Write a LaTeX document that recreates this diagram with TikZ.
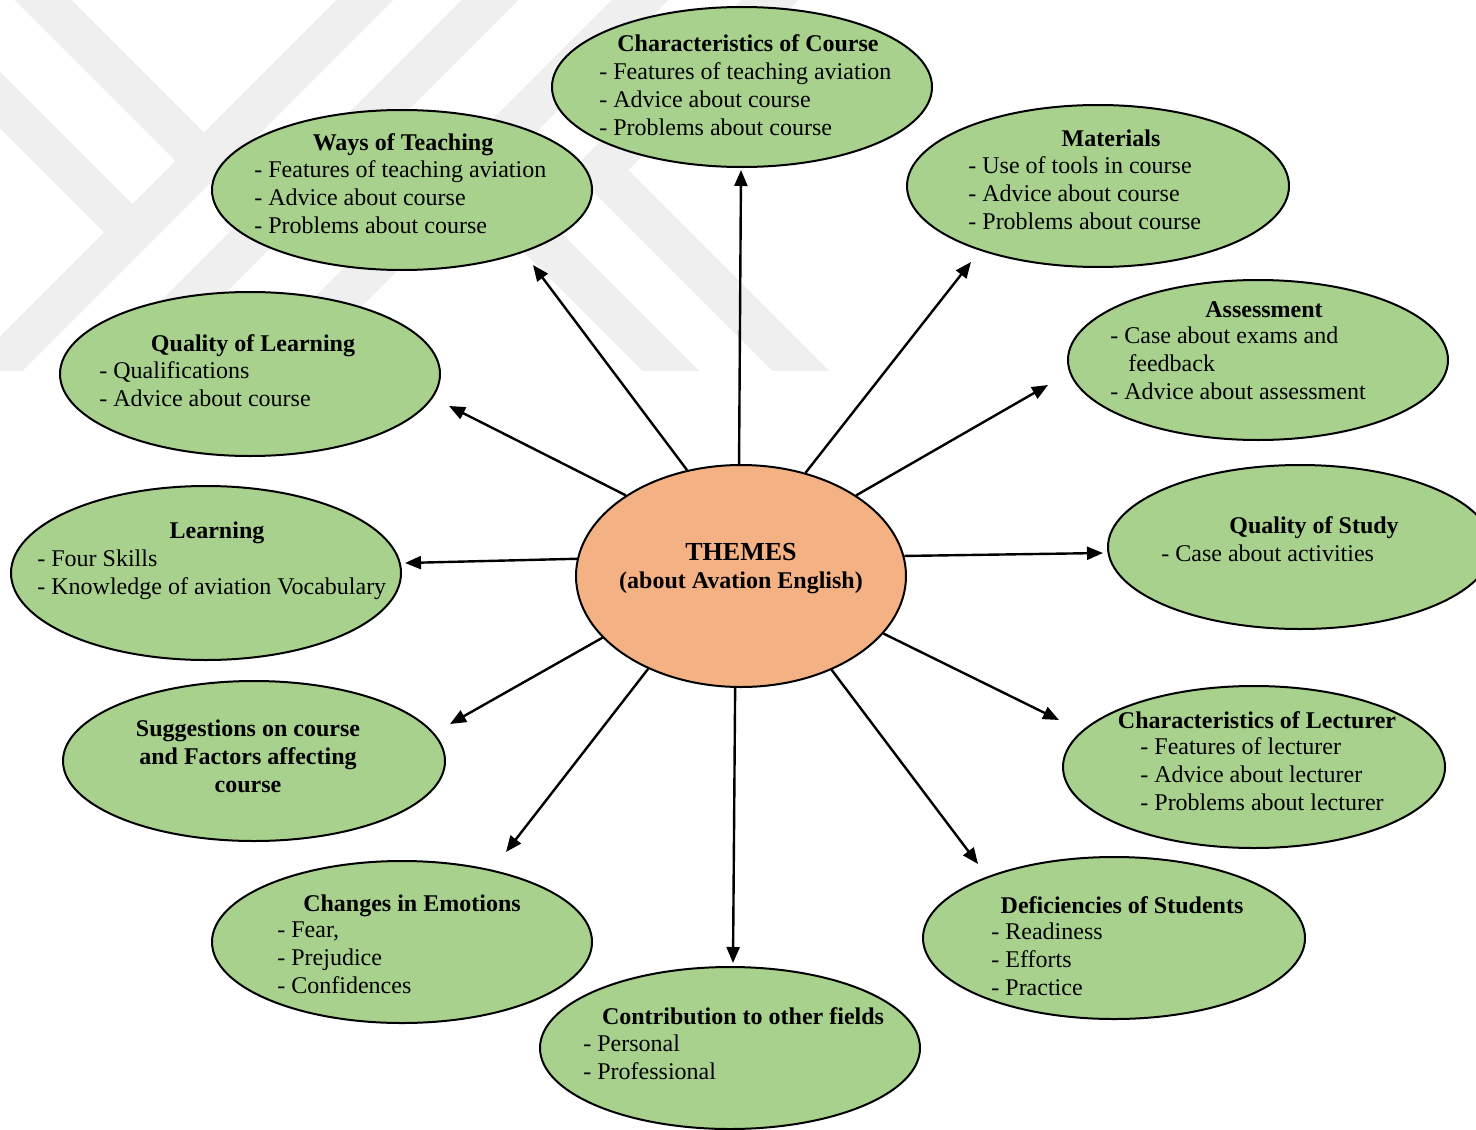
\documentclass[tikz,border=0pt]{standalone}
\usepackage{fontspec}
\setmainfont{Liberation Serif}
\usetikzlibrary{shapes.geometric,arrows.meta}
\definecolor{leaf}{RGB}{169,209,142}
\definecolor{peach}{RGB}{244,177,131}
\definecolor{mark}{RGB}{239,239,239}
\newcommand\bodysize{\fontsize{12pt}{13.85pt}\selectfont}

\begin{document}
\begin{tikzpicture}[x=0.5pt,y=-0.5pt,
  bubble/.style={ellipse,draw=black,line width=1pt,fill=leaf,inner sep=0pt},
  hub/.style={ellipse,draw=black,line width=1pt,fill=peach,inner sep=0pt},
  title/.style={font=\bodysize\bfseries,anchor=base,inner sep=0pt},
  items/.style={font=\bodysize,anchor=base west,align=left,inner sep=0pt},
  arr/.style={-{Triangle[length=8pt,width=6.5pt]},line width=1.2pt},
  band/.style={line width=20pt,draw=mark,line join=miter},
]
\useasboundingbox (0,0) rectangle (1476,1129);
\fill[white] (0,0) rectangle (1476,1129);

% faint chevron emblem in the upper left
\begin{scope}
  \clip (0,0) rectangle (860,370);
  \draw[band] (415,-50) -- (-50,415);
  \draw[band] (540,-50) -- (100,390);
  \draw[band] (-7,-50) -- (204,161);
  \draw[band] (-50,50) -- (132,232);
  \draw[band] (690,-50) -- (220,420);
  \draw[band] (470,170) -- (690,390);
  \draw[band] (820,-50) -- (600,170) -- (820,390);
\end{scope}

% central theme
\node[hub,minimum width=165pt,minimum height=111pt] (hub) at (741,576) {};
\node[title,font=\fontsize{13pt}{15pt}\selectfont\bfseries] (hubA) at (741,560) {THEMES};
\node[title] (hubB) at (741,588) {(about Avation English)};

% surrounding categories
\node[bubble,minimum width=190pt,minimum height=80pt] (course) at (742,87) {};
\node[bubble,minimum width=190pt,minimum height=80pt] (ways) at (402,190) {};
\node[bubble,minimum width=191pt,minimum height=81pt] (mat) at (1098,186) {};
\node[bubble,minimum width=190pt,minimum height=82pt] (qlearn) at (250,374) {};
\node[bubble,minimum width=190pt,minimum height=80pt] (assess) at (1258,360) {};
\node[bubble,minimum width=195pt,minimum height=87pt] (learn) at (206,573) {};
\node[bubble,minimum width=192pt,minimum height=82pt] (qstudy) at (1300,547) {};
\node[bubble,minimum width=191pt,minimum height=80pt] (sugg) at (254,761) {};
\node[bubble,minimum width=191pt,minimum height=81pt] (lect) at (1254,767) {};
\node[bubble,minimum width=190pt,minimum height=81pt] (emo) at (402,942) {};
\node[bubble,minimum width=191pt,minimum height=81pt] (defic) at (1114,938) {};
\node[bubble,minimum width=190pt,minimum height=81pt] (contrib) at (730,1048) {};

% labels (item blocks are placed by the baseline of their last line)
\node[title] (courseT) at (748,52) {Characteristics of Course};
\node[items] (courseL) at (599,135) {- Features of teaching aviation\\- Advice about course\\- Problems about course};

\node[title] (waysT) at (403,150) {Ways of Teaching};
\node[items] (waysL) at (254,233) {- Features of teaching aviation\\- Advice about course\\- Problems about course};

\node[title] (matT) at (1111,146) {Materials};
\node[items] (matL) at (968,229) {- Use of tools in course\\- Advice about course\\- Problems about course};

\node[title] (qlearnT) at (253,351) {Quality of Learning};
\node[items] (qlearnL) at (99,406) {- Qualifications\\- Advice about course};

\node[title] (assessT) at (1264,317) {Assessment};
\node[items] (assessL) at (1110,399) {- Case about exams and\\\hspace*{9pt}feedback\\- Advice about assessment};

\node[title] (learnT) at (217,538) {Learning};
\node[items] (learnL) at (37,594) {- Four Skills\\- Knowledge of aviation Vocabulary};

\node[title] (qstudyT) at (1314,533) {Quality of Study};
\node[items] (qstudyL) at (1161,561) {- Case about activities};

\node[title,align=center] (suggT) at (248,792) {Suggestions on course\\and Factors affecting\\course};

\node[title] (lectT) at (1257,728) {Characteristics of Lecturer};
\node[items] (lectL) at (1140,810) {- Features of lecturer\\- Advice about lecturer\\- Problems about lecturer};

\node[title] (emoT) at (412,911) {Changes in Emotions};
\node[items] (emoL) at (277,993) {- Fear,\\- Prejudice\\- Confidences};

\node[title] (deficT) at (1122,913) {Deficiencies of Students};
\node[items] (deficL) at (991,995) {- Readiness\\- Efforts\\- Practice};

\node[title] (contribT) at (743,1024) {Contribution to other fields};
\node[items] (contribL) at (583,1079) {- Personal\\- Professional};

% arrow tips, just short of each category
\coordinate (tCourse) at (741,170);
\coordinate (tWays) at (533,265);
\coordinate (tMat) at (971,262);
\coordinate (tQlearn) at (449,406);
\coordinate (tAssess) at (1048,385);
\coordinate (tLearn) at (405,563);
\coordinate (tQstudy) at (1103,553);
\coordinate (tSugg) at (450,724);
\coordinate (tLect) at (1059,720);
\coordinate (tEmo) at (506,852);
\coordinate (tDefic) at (978,864);
\coordinate (tContrib) at (733,963);

\draw[arr] (hub.91.5) -- (tCourse);
\draw[arr] (hub.117.6) -- (tWays);
\draw[arr] (hub.58.5) -- (tMat);
\draw[arr] (hub.145.4) -- (tQlearn);
\draw[arr] (hub.35.5) -- (tAssess);
\draw[arr] (hub.174.8) -- (tLearn);
\draw[arr] (hub.7) -- (tQstudy);
\draw[arr] (hub.204.2) -- (tSugg);
\draw[arr] (hub.338.9) -- (tLect);
\draw[arr] (hub.225.6) -- (tEmo);
\draw[arr] (hub.314.7) -- (tDefic);
\draw[arr] (hub.267.4) -- (tContrib);
\end{tikzpicture}
\end{document}
